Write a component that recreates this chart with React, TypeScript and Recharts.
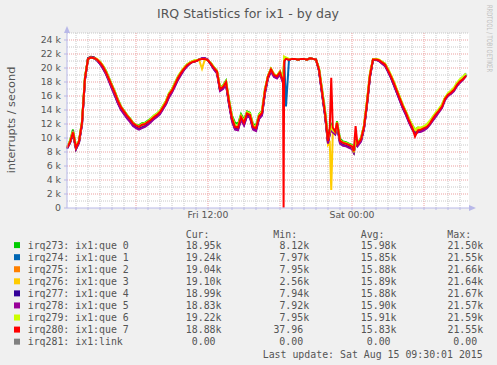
import { LineChart, Line, XAxis, YAxis, CartesianGrid, ReferenceDot, ReferenceLine } from 'recharts'

// hours since Fri 00:00
const hours = [
  0.25, 0.5, 0.75, 1.0, 1.25, 1.5, 1.75, 2.0, 2.25, 2.5,
  2.75, 3.0, 3.25, 3.5, 3.75, 4.0, 4.25, 4.5, 4.75, 5.0,
  5.25, 5.5, 5.75, 6.0, 6.25, 6.5, 6.75, 7.0, 7.25, 7.5,
  7.75, 8.0, 8.25, 8.5, 8.75, 9.0, 9.25, 9.5, 9.75, 10.0,
  10.25, 10.5, 10.75, 11.0, 11.25, 11.5, 11.75, 12.0, 12.25, 12.5,
  12.75, 13.0, 13.25, 13.5, 13.75, 14.0, 14.25, 14.5, 14.75, 15.0,
  15.25, 15.5, 15.75, 16.0, 16.25, 16.5, 16.75, 17.0, 17.25, 17.5,
  17.75, 18.0, 18.25, 18.3, 18.35, 18.5, 18.75, 19.0, 19.25, 19.5,
  19.75, 20.0, 20.25, 20.5, 20.75, 21.0, 21.25, 21.5, 21.75, 22.0,
  22.15, 22.27, 22.4, 22.6, 22.75, 23.0, 23.25, 23.5, 23.75, 24.0,
  24.15, 24.3, 24.45, 24.75, 25.0, 25.25, 25.5, 25.75, 26.0, 26.25,
  26.5, 26.75, 27.0, 27.25, 27.5, 27.75, 28.0, 28.25, 28.5, 28.75,
  29.0, 29.25, 29.5, 29.75, 30.0, 30.25, 30.5, 30.75, 31.0, 31.25,
  31.5, 31.75, 32.0, 32.25, 32.5, 32.75, 33.0, 33.25, 33.5,
]

// interrupts per second, in thousands
const que0 = [
  8.7, 9.6, 11.2, 8.8, 9.6, 12.4, 18.8, 21.3, 21.5, 21.4,
  21.2, 20.9, 20.3, 19.6, 18.6, 17.6, 16.6, 15.5, 14.5, 13.9,
  13.3, 12.8, 12.2, 11.9, 11.8, 12.1, 12.2, 12.5, 12.8, 13.2,
  13.5, 13.9, 14.6, 15.3, 16.4, 17.0, 17.9, 18.8, 19.4, 20.0,
  20.5, 20.8, 21.0, 21.1, 21.2, 21.3, 21.3, 21.1, 20.7, 20.1,
  19.6, 17.2, 17.5, 18.2, 15.5, 13.2, 12.2, 12.0, 13.4, 12.6,
  13.8, 13.6, 12.0, 11.8, 13.4, 13.9, 17.0, 18.9, 19.9, 19.1,
  18.9, 19.5, 18.4, 18.8, 21.2, 21.3, 21.2, 21.3, 21.3, 21.2,
  21.3, 21.3, 21.2, 21.4, 21.3, 21.2, 20.0, 17.0, 14.0, 10.2,
  11.2, 11.8, 11.0, 10.6, 12.4, 9.9, 9.5, 9.4, 9.2, 9.0,
  8.4, 9.6, 9.3, 10.0, 11.8, 15.2, 19.2, 21.2, 21.2, 21.1,
  20.9, 20.6, 19.8, 18.9, 17.9, 16.8, 15.7, 14.6, 13.7, 12.7,
  11.9, 11.2, 11.5, 11.4, 11.6, 11.8, 12.3, 13.0, 13.6, 14.0,
  14.7, 15.7, 16.3, 16.6, 17.0, 17.7, 18.2, 18.5, 18.95,
]
const que1 = [
  8.5, 9.3, 10.6, 8.4, 9.4, 12.0, 18.4, 21.3, 21.5, 21.4,
  21.1, 20.7, 20.0, 19.2, 18.2, 17.2, 16.1, 15.0, 14.2, 13.6,
  13.0, 12.5, 11.9, 11.6, 11.5, 11.7, 11.9, 12.2, 12.5, 12.9,
  13.2, 13.6, 14.3, 15.0, 16.0, 16.7, 17.6, 18.5, 19.2, 19.8,
  20.3, 20.7, 20.9, 21.0, 21.2, 21.3, 21.3, 21.1, 20.5, 19.9,
  19.4, 16.9, 17.2, 17.8, 15.0, 12.6, 11.4, 11.3, 12.8, 12.0,
  13.3, 13.1, 11.4, 11.2, 12.9, 13.4, 16.6, 18.7, 19.7, 18.9,
  18.7, 19.3, 18.1, 18.6, 21.3, 14.5, 21.2, 21.3, 21.3, 21.2,
  21.3, 21.3, 21.2, 21.4, 21.3, 21.2, 19.7, 16.5, 13.4, 9.4,
  10.8, 11.5, 11.0, 10.7, 12.0, 9.4, 9.1, 9.0, 8.8, 8.6,
  8.0, 9.5, 9.0, 9.6, 11.4, 14.8, 18.8, 21.2, 21.2, 21.1,
  20.7, 20.4, 19.6, 18.7, 17.6, 16.5, 15.4, 14.3, 13.4, 12.3,
  11.5, 10.9, 10.9, 11.0, 11.2, 11.5, 12.0, 12.7, 13.3, 13.9,
  14.6, 15.6, 16.3, 16.6, 17.0, 17.8, 18.3, 18.7, 19.24,
]
const que2 = [
  8.6, 9.4, 10.7, 8.5, 9.5, 12.1, 18.5, 21.4, 21.6, 21.5,
  21.2, 20.8, 20.1, 19.3, 18.3, 17.3, 16.3, 15.2, 14.3, 13.7,
  13.1, 12.6, 12.0, 11.7, 11.6, 11.8, 12.0, 12.3, 12.6, 13.0,
  13.3, 13.7, 14.4, 15.1, 16.2, 16.8, 17.7, 18.6, 19.3, 19.9,
  20.4, 20.7, 20.9, 21.0, 21.2, 21.3, 21.3, 21.1, 20.6, 20.0,
  19.5, 17.0, 17.3, 17.9, 15.1, 12.7, 11.6, 11.5, 12.9, 12.2,
  13.4, 13.2, 11.6, 11.4, 13.0, 13.6, 16.7, 18.8, 19.8, 19.0,
  18.8, 19.4, 18.2, 19.0, 21.4, 21.3, 21.2, 21.3, 21.3, 21.2,
  21.3, 21.3, 21.2, 21.4, 21.3, 21.2, 19.8, 16.6, 13.5, 9.5,
  10.6, 11.4, 11.2, 10.8, 12.1, 9.5, 9.2, 9.1, 8.9, 8.7,
  8.0, 9.4, 9.1, 9.7, 11.5, 14.9, 18.9, 21.3, 21.3, 21.1,
  20.8, 20.5, 19.7, 18.8, 17.8, 16.7, 15.6, 14.5, 13.6, 12.5,
  11.6, 10.8, 11.1, 11.2, 11.4, 11.7, 12.2, 12.8, 13.4, 13.9,
  14.5, 15.6, 16.2, 16.6, 17.0, 17.7, 18.2, 18.5, 19.04,
]
const que3 = [
  8.6, 9.5, 10.9, 8.7, 9.6, 12.3, 18.7, 21.4, 21.6, 21.5,
  21.3, 20.9, 20.3, 19.5, 18.5, 17.5, 16.5, 15.4, 14.4, 13.8,
  13.2, 12.7, 12.1, 11.7, 11.5, 11.6, 11.8, 12.2, 12.7, 13.1,
  13.4, 13.8, 14.5, 15.3, 16.3, 16.9, 17.8, 18.7, 19.4, 20.0,
  20.5, 20.8, 21.0, 21.1, 21.2, 19.9, 21.3, 21.1, 20.6, 20.0,
  19.5, 17.1, 17.4, 18.0, 15.3, 12.9, 11.7, 11.6, 13.1, 12.3,
  13.6, 13.4, 11.7, 11.5, 13.2, 13.8, 16.9, 18.9, 19.9, 19.1,
  18.9, 19.5, 18.3, 19.4, 21.6, 21.4, 21.2, 21.3, 21.3, 21.2,
  21.3, 21.3, 21.2, 21.4, 21.3, 21.2, 19.9, 16.8, 13.7, 9.0,
  9.3, 2.56, 10.8, 10.7, 12.0, 9.5, 9.2, 9.1, 8.9, 8.7,
  8.1, 9.4, 9.1, 9.9, 11.8, 15.4, 19.3, 21.3, 21.3, 21.2,
  20.9, 20.6, 19.8, 18.9, 17.9, 16.8, 15.7, 14.6, 13.7, 12.7,
  11.8, 11.0, 11.4, 11.4, 11.6, 11.9, 12.4, 13.0, 13.6, 14.1,
  14.7, 15.7, 16.3, 16.7, 17.1, 17.8, 18.3, 18.6, 19.1,
]
const que4 = [
  8.5, 9.3, 10.6, 8.5, 9.4, 12.0, 18.4, 21.4, 21.6, 21.5,
  21.1, 20.6, 20.0, 19.2, 18.2, 17.1, 16.1, 15.0, 14.1, 13.5,
  12.9, 12.4, 11.8, 11.5, 11.3, 11.5, 11.7, 12.0, 12.4, 12.8,
  13.1, 13.5, 14.2, 14.9, 15.9, 16.6, 17.5, 18.4, 19.1, 19.8,
  20.3, 20.7, 20.9, 21.0, 21.2, 21.4, 21.4, 21.1, 20.5, 19.8,
  19.3, 16.8, 17.1, 17.7, 14.9, 12.5, 11.3, 11.2, 12.7, 11.9,
  13.2, 13.0, 11.3, 11.1, 12.8, 13.3, 16.5, 18.6, 19.6, 18.8,
  18.6, 19.2, 18.0, 18.6, 21.0, 21.4, 21.2, 21.3, 21.3, 21.2,
  21.3, 21.3, 21.2, 21.4, 21.3, 21.2, 19.6, 16.4, 13.3, 9.3,
  10.7, 11.3, 10.9, 10.6, 11.9, 9.3, 9.0, 8.9, 8.7, 8.5,
  7.94, 9.3, 8.9, 9.6, 11.4, 14.8, 18.8, 21.2, 21.2, 21.0,
  20.7, 20.3, 19.5, 18.6, 17.5, 16.4, 15.3, 14.2, 13.3, 12.3,
  11.4, 10.7, 10.9, 11.0, 11.2, 11.5, 12.0, 12.6, 13.2, 13.8,
  14.4, 15.5, 16.1, 16.4, 16.8, 17.5, 18.0, 18.4, 18.99,
]
const que5 = [
  8.5, 9.3, 10.6, 8.4, 9.3, 11.9, 18.3, 21.3, 21.5, 21.4,
  21.1, 20.6, 19.9, 19.1, 18.1, 17.0, 16.0, 14.9, 14.0, 13.4,
  12.8, 12.3, 11.7, 11.4, 11.2, 11.4, 11.6, 11.9, 12.3, 12.7,
  13.0, 13.4, 14.1, 14.8, 15.8, 16.5, 17.4, 18.3, 19.0, 19.7,
  20.2, 20.6, 20.9, 21.0, 21.2, 21.4, 21.4, 21.2, 20.5, 19.8,
  19.2, 16.7, 17.0, 17.6, 14.8, 12.4, 11.2, 11.1, 12.6, 11.8,
  13.1, 12.9, 11.2, 11.0, 12.7, 13.2, 16.4, 18.5, 19.5, 18.7,
  18.5, 19.1, 17.9, 18.5, 21.0, 21.4, 21.2, 21.3, 21.3, 21.2,
  21.3, 21.3, 21.2, 21.4, 21.3, 21.2, 19.6, 16.3, 13.2, 9.2,
  10.6, 11.2, 10.8, 10.5, 11.8, 9.2, 8.9, 8.8, 8.6, 8.4,
  7.92, 9.2, 8.8, 9.5, 11.3, 14.7, 18.7, 21.2, 21.2, 21.0,
  20.6, 20.3, 19.5, 18.6, 17.5, 16.4, 15.3, 14.2, 13.3, 12.2,
  11.3, 10.6, 10.8, 10.9, 11.1, 11.4, 11.9, 12.5, 13.1, 13.7,
  14.3, 15.4, 16.0, 16.3, 16.7, 17.4, 17.9, 18.3, 18.83,
]
const que6 = [
  8.7, 9.5, 10.9, 8.7, 9.6, 12.3, 18.7, 21.3, 21.5, 21.4,
  21.2, 20.9, 20.3, 19.5, 18.5, 17.5, 16.5, 15.4, 14.5, 13.9,
  13.3, 12.8, 12.2, 11.9, 11.7, 12.0, 12.1, 12.4, 12.8, 13.2,
  13.5, 13.9, 14.6, 15.3, 16.4, 17.0, 17.9, 18.8, 19.5, 20.1,
  20.5, 20.8, 21.0, 21.1, 21.2, 21.3, 21.3, 21.1, 20.7, 20.1,
  19.6, 17.2, 17.4, 18.1, 15.4, 13.0, 11.8, 11.7, 13.2, 12.4,
  13.7, 13.5, 11.8, 11.6, 13.3, 13.8, 16.9, 18.9, 19.9, 19.1,
  18.9, 19.5, 18.3, 19.8, 21.6, 21.5, 21.3, 21.3, 21.3, 21.2,
  21.3, 21.3, 21.2, 21.4, 21.3, 21.2, 19.9, 16.9, 13.8, 9.8,
  11.0, 11.6, 11.1, 10.8, 12.3, 9.7, 9.4, 9.3, 9.1, 8.9,
  7.95, 9.5, 9.2, 9.9, 11.7, 15.2, 19.2, 21.3, 21.3, 21.2,
  20.9, 20.6, 19.9, 19.0, 18.0, 16.9, 15.8, 14.7, 13.8, 12.8,
  11.9, 11.2, 11.5, 11.5, 11.7, 12.0, 12.5, 13.1, 13.7, 14.2,
  14.8, 15.8, 16.4, 16.8, 17.2, 17.9, 18.4, 18.8, 19.22,
]
const que7 = [
  8.6, 9.4, 10.8, 8.6, 9.5, 12.2, 18.6, 21.3, 21.5, 21.4,
  21.2, 20.8, 20.2, 19.4, 18.4, 17.4, 16.4, 15.3, 14.4, 13.8,
  13.2, 12.7, 12.1, 11.8, 11.6, 11.9, 12.0, 12.3, 12.6, 13.0,
  13.3, 13.7, 14.4, 15.1, 16.2, 16.8, 17.7, 18.6, 19.3, 19.9,
  20.4, 20.7, 20.9, 21.0, 21.2, 21.3, 21.3, 21.1, 20.6, 20.0,
  19.5, 17.0, 17.3, 18.0, 15.2, 12.8, 11.6, 11.5, 13.0, 12.2,
  13.5, 13.3, 11.6, 11.4, 13.1, 13.6, 16.8, 18.8, 19.8, 19.0,
  18.8, 19.4, 18.2, 0.04, 21.0, 21.3, 21.2, 21.3, 21.3, 21.2,
  21.3, 21.3, 21.2, 21.4, 21.3, 21.2, 19.8, 16.7, 13.6, 9.6,
  11.5, 18.6, 11.5, 10.9, 12.2, 9.6, 9.3, 9.2, 9.0, 8.8,
  8.1, 11.7, 9.1, 9.8, 11.6, 15.0, 19.0, 21.2, 21.2, 21.1,
  20.8, 20.5, 19.7, 18.8, 17.8, 16.7, 15.6, 14.5, 13.6, 12.5,
  11.6, 10.2, 11.1, 11.2, 11.4, 11.6, 12.1, 12.8, 13.4, 13.9,
  14.5, 15.6, 16.2, 16.5, 16.9, 17.6, 18.1, 18.4, 18.88,
]

const names = [
  'irq273: ix1:que 0', 'irq274: ix1:que 1', 'irq275: ix1:que 2', 'irq276: ix1:que 3',
  'irq277: ix1:que 4', 'irq278: ix1:que 5', 'irq279: ix1:que 6', 'irq280: ix1:que 7',
  'irq281: ix1:link',
]
const colors = ['#00cc00', '#0066b3', '#ff8000', '#ffcc00', '#330099', '#990099', '#ccff00', '#ff0000', '#808080']
const curVals = ['18.95k', '19.24k', '19.04k', '19.10k', '18.99k', '18.83k', '19.22k', '18.88k', '0.00']
const minVals = ['8.12k', '7.97k', '7.95k', '2.56k', '7.94k', '7.92k', '7.95k', '37.96', '0.00']
const avgVals = ['15.98k', '15.85k', '15.88k', '15.89k', '15.88k', '15.90k', '15.91k', '15.83k', '0.00']
const maxVals = ['21.50k', '21.55k', '21.66k', '21.64k', '21.67k', '21.57k', '21.59k', '21.55k', '0.00']

const seriesValues = [que0, que1, que2, que3, que4, que5, que6, que7]

const yTicks = [0, 2, 4, 6, 8, 10, 12, 14, 16, 18, 20, 22, 24]
const yMinor = [1, 3, 5, 7, 9, 11, 13, 15, 17, 19, 21, 23, 25]
const xMajor = [6, 12, 18, 24, 30]
const xTicks = [1, 2, 3, 4, 5, 6, 7, 8, 9, 10, 11, 12, 13, 14, 15, 16, 17, 18, 19, 20, 21, 22, 23, 24, 25, 26, 27, 28, 29, 30, 31, 32, 33]
const xMinor = xTicks.filter((h) => !xMajor.includes(h))
const xLabelHours = [12, 24]
const xLabelTexts = ['Fri 12:00', 'Sat 00:00']

const data = hours.map((h, i) => {
  const row: Record<string, number> = { h }
  seriesValues.forEach((vals, s) => { row['q' + s] = vals[i] })
  return row
})

const AXIS = '#b8b8e8'
const MINOR = '#c8c8c8'
const MAJOR = '#eca0a0'
const TEXT = '#555'
const MONO = '"DejaVu Sans Mono", monospace'
const CH = 5.97 // mono char width

const cols = [
  { head: 'Cur:', vals: curVals, left: 185.7 },
  { head: 'Min:', vals: minVals, left: 273.3 },
  { head: 'Avg:', vals: avgVals, left: 360.7 },
  { head: 'Max:', vals: maxVals, left: 447.3 },
]

export default function App() {
  return (
    <div style={{ position: 'absolute', left: 0, top: 0, width: 497, height: 365, background: '#f0f0f0', fontFamily: '"DejaVu Sans", sans-serif' }}>
      <LineChart width={497} height={365} data={data} margin={{ top: 33, right: 28, bottom: 137, left: 7 }}>
        <CartesianGrid fill="#fff" horizontal={false} vertical={false} />
        {yMinor.map((v) => (
          <ReferenceLine key={'ym' + v} y={v} stroke={MINOR} strokeDasharray="1 1" zIndex={-50} />
        ))}
        {xMinor.map((v) => (
          <ReferenceLine key={'xm' + v} x={v} stroke={MINOR} strokeDasharray="1 1" zIndex={-50} />
        ))}
        {yTicks.slice(1).map((v) => (
          <ReferenceLine key={'yM' + v} y={v} stroke={MAJOR} strokeDasharray="1 1" zIndex={-40} />
        ))}
        {xMajor.map((v) => (
          <ReferenceLine key={'xM' + v} x={v} stroke={MAJOR} strokeDasharray="1 1" zIndex={-40} />
        ))}
        <XAxis type="number" dataKey="h" domain={[0.25, 33.75]} ticks={xTicks} interval={0}
          tickFormatter={(v: number) => { const k = xLabelHours.indexOf(v); return k >= 0 ? xLabelTexts[k] : '' }}
          height={20} tickSize={2} tickMargin={1}
          axisLine={{ stroke: AXIS }} tickLine={{ stroke: AXIS }}
          tick={{ fontSize: 9.3, fill: TEXT, fontFamily: '"DejaVu Sans"' }} />
        <YAxis type="number" domain={[0, 25]} ticks={yTicks} interval={0} width={60}
          tickFormatter={(v: number) => (v === 0 ? '0' : `${v} k`)}
          tickSize={3} tickMargin={3}
          axisLine={{ stroke: AXIS }} tickLine={{ stroke: AXIS }}
          tick={{ fontSize: 9.4, fill: TEXT, fontFamily: '"DejaVu Sans"' }} />
        {seriesValues.map((_, s) => (
          <Line key={s} type="linear" dataKey={'q' + s} stroke={colors[s]} strokeWidth={2}
            dot={false} isAnimationActive={false} />
        ))}
        <ReferenceDot x={33.75} y={0} r={0} ifOverflow="visible"
          shape={(p: any) => <path d={`M${p.cx},${p.cy - 3}L${p.cx + 7},${p.cy}L${p.cx},${p.cy + 3}Z`} fill={AXIS} />} />
        <ReferenceDot x={0.25} y={25} r={0} ifOverflow="visible"
          shape={(p: any) => <path d={`M${p.cx - 3},${p.cy}L${p.cx},${p.cy - 7}L${p.cx + 3},${p.cy}Z`} fill={AXIS} />} />
      </LineChart>
      <svg width={497} height={365} style={{ position: 'absolute', left: 0, top: 0, pointerEvents: 'none' }}>
        <text x={248} y={18} textAnchor="middle" fontSize={12.5} fill={TEXT} fontFamily='"DejaVu Sans"'>IRQ Statistics for ix1 - by day</text>
        <text transform="translate(15,120) rotate(-90)" textAnchor="middle" fontSize={11.3} fill={TEXT} fontFamily='"DejaVu Sans"'>interrupts / second</text>
        <text transform="translate(487,5) rotate(90)" fontSize={7.5} fill="#c0c0c0" fontFamily='"DejaVu Sans"'
          textLength={67} lengthAdjust="spacingAndGlyphs">RRDTOOL / TOBI OETIKER</text>
        {cols.map((c) => (
          <text key={c.head} x={c.left} y={238} fontSize={9.9} fill={TEXT} fontFamily={MONO}>{c.head}</text>
        ))}
        {names.map((n, i) => {
          const y = 248.6 + i * 12.07
          return (
            <g key={n}>
              <rect x={14} y={y - 6.5} width={6} height={6} fill={colors[i]} />
              <text x={27.7} y={y} fontSize={9.9} fill={TEXT} fontFamily={MONO} style={{ whiteSpace: 'pre' }}>{n}</text>
              {cols.map((c) => {
                const v = c.vals[i]
                const right = c.left + 6 * CH - (v.endsWith('k') ? 0 : CH)
                return <text key={c.head} x={right} y={y} textAnchor="end" fontSize={9.9} fill={TEXT} fontFamily={MONO}>{v}</text>
              })}
            </g>
          )
        })}
        <text x={482.7} y={357.5} textAnchor="end" fontSize={9.9} fill={TEXT} fontFamily={MONO} style={{ whiteSpace: 'pre' }}>Last update: Sat Aug 15 09:30:01 2015</text>
      </svg>
    </div>
  )
}
